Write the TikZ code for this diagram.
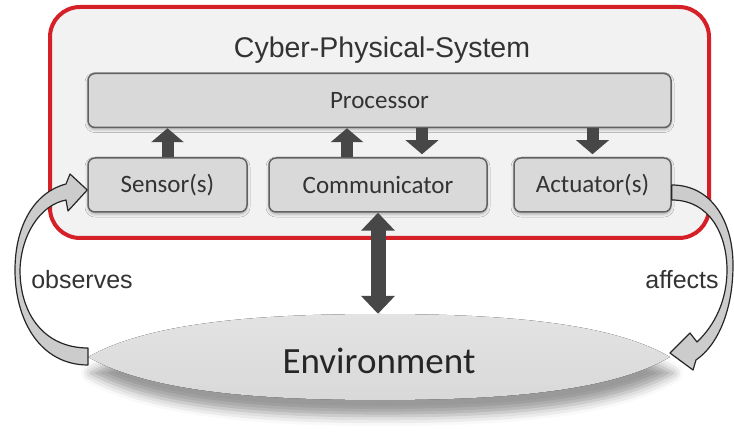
\documentclass[tikz,border=0pt]{standalone}
\usepackage{fontspec}
\setmainfont{Liberation Sans}
\newfontfamily\calfont{Carlito}
\usetikzlibrary{arrows.meta, shadows.blur}
\definecolor{cpsred}{RGB}{214,32,40}
\definecolor{ink}{RGB}{51,51,51}

\begin{document}
\begin{tikzpicture}[x=1pt, y=-1pt,
    unit/.style={draw=black!62, line width=1.5pt, fill=black!15, rounded corners=7pt,
      minimum height=54pt, text=ink, font=\calfont\fontsize{25}{25}\selectfont,
      blur shadow={shadow xshift=0pt, shadow yshift=-2pt, shadow blur radius=3pt, shadow opacity=30}},
    blk/.style={draw=black!72, line width=12pt, -{Triangle[length=14pt, width=32pt]}},
    band/.style={draw=black!85, line width=1.2pt, fill=black!20, line join=round},
    lbl/.style={text=ink, font=\fontsize{25}{25}\selectfont}]
  \useasboundingbox (0,0) rectangle (734,438);
  % system frame
  \draw[cpsred, line width=4pt, fill=black!5, rounded corners=30pt] (50,7) rectangle (709,238);
  \node[text=ink, font=\fontsize{28.5}{28.5}\selectfont, anchor=base] (T) at (382,58) {Cyber-Physical-System};
  \node[unit, minimum width=583pt] (Pr) at (379.5,100.5) {Processor};
  \node[unit, minimum width=159pt] (Se) at (167.5,185) {Sensor(s)};
  \node[unit, minimum width=218pt] (Co) at (378,185) {Communicator};
  \node[unit, minimum width=157pt] (Ac) at (592.5,185) {Actuator(s)};
  \draw[blk] (Se.north) -- (Se.north |- Pr.south);
  \draw[blk] ([xshift=-31pt]Co.north) -- ([xshift=-31pt]Co.north |- Pr.south);
  \draw[blk, shorten >=3pt] ([xshift=44pt]Co.north |- Pr.south) -- ([xshift=44pt]Co.north);
  \draw[blk, shorten >=3pt] (Ac.north |- Pr.south) -- (Ac.north);
  % environment
  \coordinate (EnvW) at (88,357);
  \coordinate (EnvE) at (670,357);
  \fill[top color=black!11, bottom color=black!15,
    blur shadow={shadow xshift=3pt, shadow yshift=-16pt, shadow blur radius=10pt, shadow opacity=40}]
    (EnvW) .. controls (150,322) and (260,314) .. (380,314) .. controls (500,314) and (610,322) .. (EnvE)
    .. controls (610,392) and (500,400) .. (380,400) .. controls (260,400) and (150,392) .. (EnvW) -- cycle;
  \node[text=black!85, font=\calfont\fontsize{37}{37}\selectfont, minimum height=94pt] (Env) at (379,361) {Environment};
  \draw[draw=black!72, line width=15pt, {Triangle[length=18pt, width=33pt]}-{Triangle[length=18pt, width=33pt]}]
    (Co.south) -- (Co.south |- Env.north);
  % observes / affects
  \filldraw[band] ([yshift=-8pt]EnvW) .. controls (40,365) and (15,320) .. (15,270)
    .. controls (15,225) and (35,192) .. (66,184) -- (70,174) -- ([yshift=-5pt]Se.west) -- (68,211) -- (66,200)
    .. controls (40,205) and (21,235) .. (20,270) .. controls (20,315) and (45,348) .. (88,348) -- cycle;
  \filldraw[band] (Ac.east) .. controls (712,185) and (733,222) .. (733,265)
    .. controls (733,310) and (718,345) .. (696,360) -- (693,370) -- ([yshift=4pt]EnvE) -- (690,333) -- (697,342)
    .. controls (715,325) and (727,300) .. (727,270) .. controls (727,235) and (710,200) .. ([yshift=-15pt]Ac.east) -- cycle;
  \node[lbl] (Obs) at (82,280) {observes};
  \node[lbl] (Aff) at (682,280) {affects};
\end{tikzpicture}
\end{document}
